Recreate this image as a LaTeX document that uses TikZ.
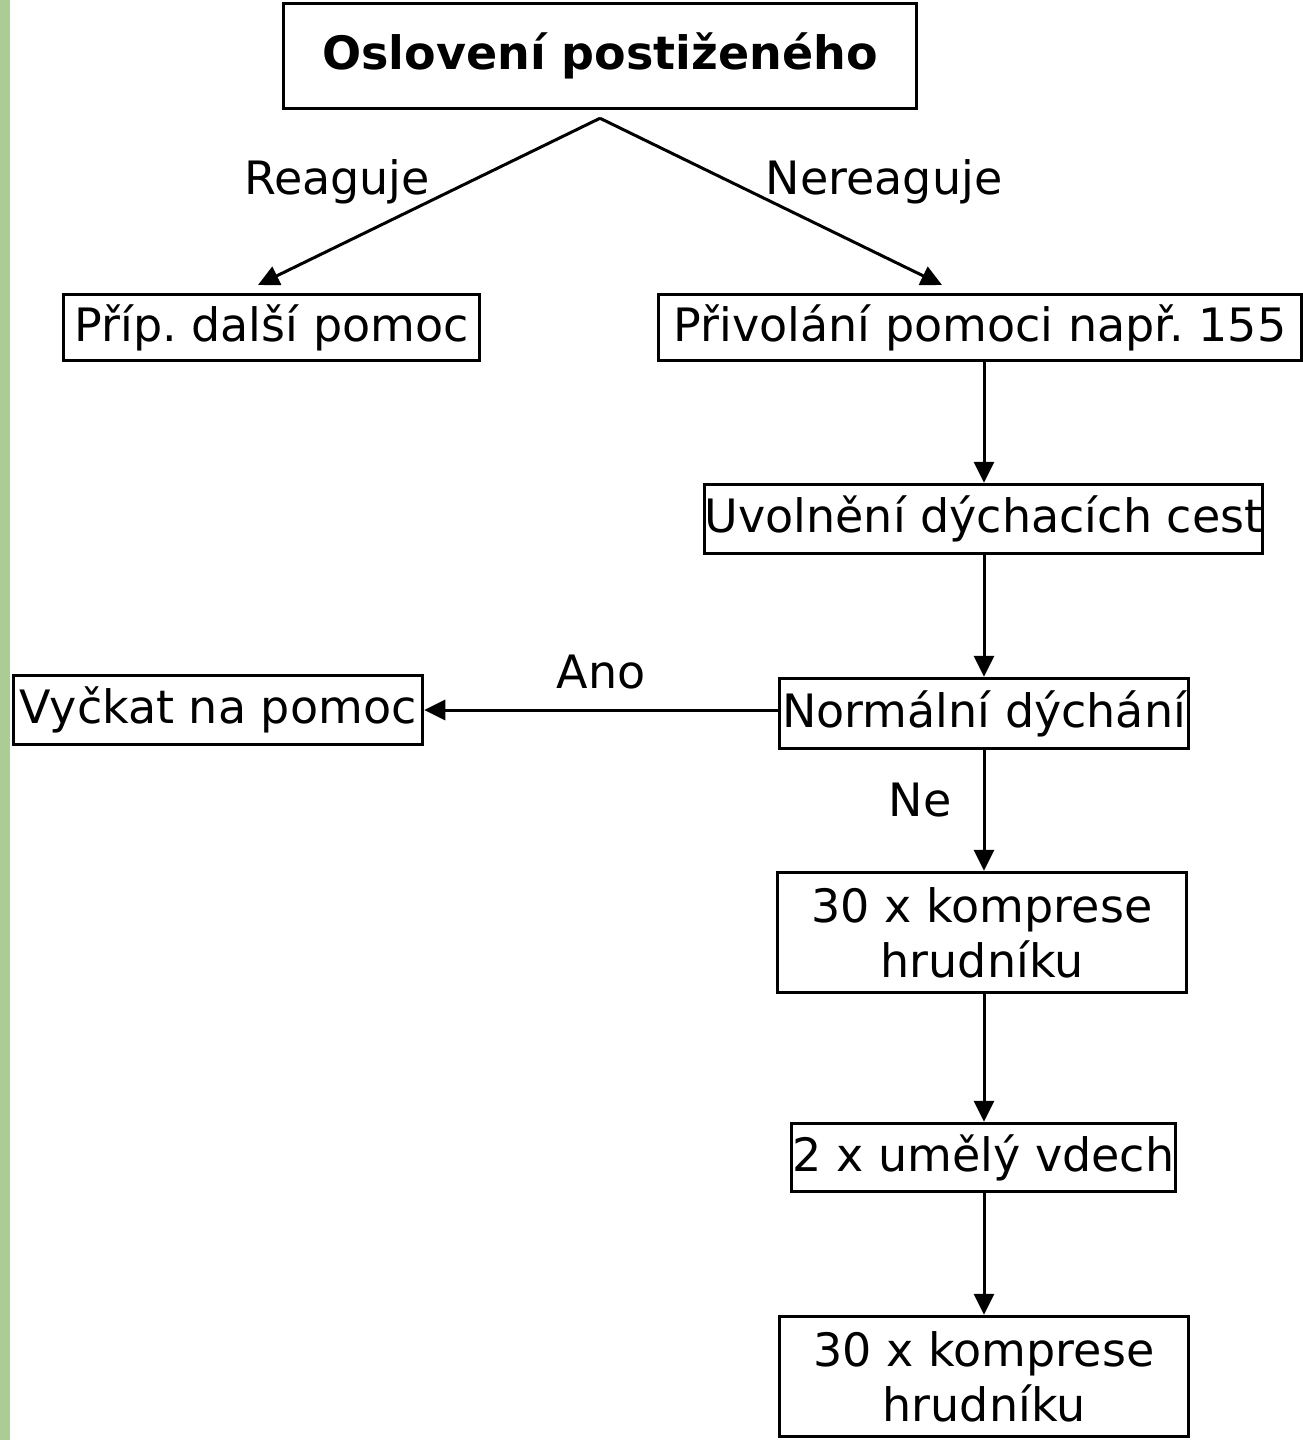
\documentclass[tikz,border=0pt]{standalone}
\usepackage{fontspec}
\setmainfont{DejaVu Sans}
\usetikzlibrary{arrows.meta}
\definecolor{leafgreen}{RGB}{170,205,150}
\tikzset{
  box/.style={draw, line width=3.5pt, inner sep=0pt, align=center, font=\fontsize{46}{55}\selectfont},
  lbl/.style={font=\fontsize{46}{55}\selectfont},
  arr/.style={line width=3pt, -{Triangle[length=21pt,width=20pt]}}
}
\begin{document}
\begin{tikzpicture}[x=1pt,y=-1pt,line join=miter]
  \useasboundingbox (0,0) rectangle (1303,1440);
  \fill [leafgreen] (0,0) rectangle (10,1440);
  % boxes
  \node [box, font=\fontsize{46}{55}\selectfont\bfseries, minimum width=633pt, minimum height=105pt] (osloveni) at (600,56) {Oslovení postiženého};
  \node [box, minimum width=416pt, minimum height=66pt] (dalsi) at (271.5,327.5) {Příp.\ další pomoc};
  \node [box, minimum width=643pt, minimum height=66pt] (privolani) at (980,327.5) {Přivolání pomoci např.\ 155};
  \node [box, minimum width=556pt, minimum height=69pt] (uvolneni) at (983.5,519) {Uvolnění dýchacích cest};
  \node [box, minimum width=409pt, minimum height=70pt] (dychani) at (984,713.5) {Normální dýchání};
  \node [box, minimum width=409pt, minimum height=69pt] (vyckat) at (218,710) {Vyčkat na pomoc};
  \node [box, minimum width=409pt, minimum height=120pt] (komprese) at (982,932.5) {30 x komprese\\hrudníku};
  \node [box, minimum width=384pt, minimum height=68pt] (vdech) at (983.5,1157.5) {2 x umělý vdech};
  \node [box, minimum width=409pt, minimum height=120pt] (kompreseb) at (984,1376.5) {30 x komprese\\hrudníku};
  % connectors
  \coordinate (split) at ([yshift=-8pt]osloveni.south);
  \coordinate (reagend) at (258,285);
  \coordinate (nereagend) at (942,285);
  \draw [arr] (split) -- (reagend);
  \draw [arr] (split) -- (nereagend);
  \draw [arr] (privolani.south -| dychani.north) -- (uvolneni.north -| dychani.north);
  \draw [arr] (uvolneni.south -| dychani.north) -- (dychani.north);
  \draw [arr] (dychani.south) -- (komprese.north -| dychani.south);
  \draw [arr] (dychani.west |- vyckat.east) -- (vyckat.east);
  \draw [arr] (komprese.south -| dychani.south) -- (vdech.north -| dychani.south);
  \draw [arr] (vdech.south -| dychani.south) -- (kompreseb.north -| dychani.south);
  % labels
  \node [lbl] (reaguje) at (337,182) {Reaguje};
  \node [lbl] (nereaguje) at (884,182) {Nereaguje};
  \node [lbl] (ano) at (601,672) {Ano};
  \node [lbl] (ne) at (920,800) {Ne};
\end{tikzpicture}
\end{document}
